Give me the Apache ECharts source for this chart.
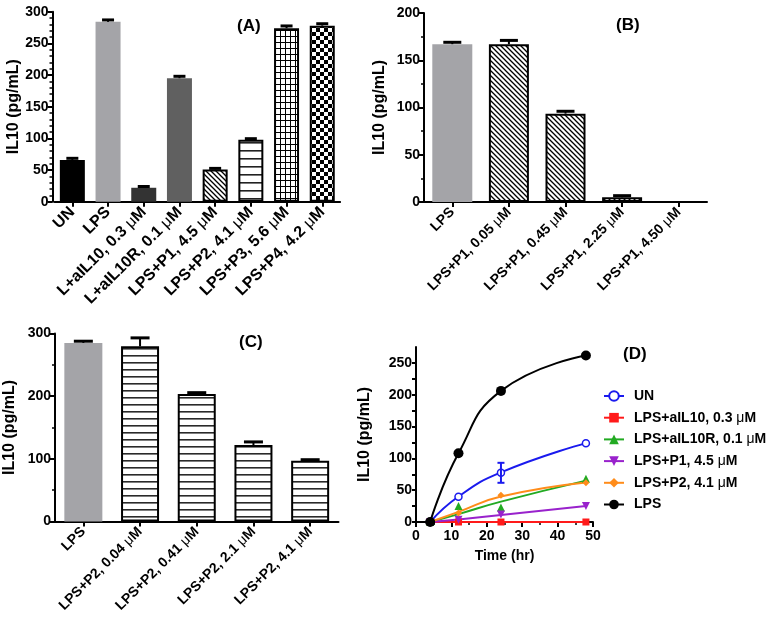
<!DOCTYPE html>
<html><head><meta charset="utf-8">
<script src="https://cdn.jsdelivr.net/npm/echarts@6/dist/echarts.min.js"></script>
<style>html,body{margin:0;padding:0;background:#fff}#c{width:781px;height:622px}</style>
</head><body><div id="c"></div>
<script>
// ---------- DATA ----------
const catA = ['UN', 'LPS', 'L+aIL10, 0.3 μM', 'L+aIL10R, 0.1 μM', 'LPS+P1, 4.5 μM', 'LPS+P2, 4.1 μM', 'LPS+P3, 5.6 μM', 'LPS+P4, 4.2 μM'];
const valA = [66, 284, 22, 195, 51, 98, 274, 278];
const errA = [68.5, 287, 24, 198, 52.6, 99.5, 277.5, 281];

const catB = ['LPS', 'LPS+P1, 0.05 μM', 'LPS+P1, 0.45 μM', 'LPS+P1, 2.25 μM', 'LPS+P1, 4.50 μM'];
const valB = [167, 167, 93.5, 5, 0];
const errB = [169, 171, 96, 6.7, 0];

const catC = ['LPS', 'LPS+P2, 0.04 μM', 'LPS+P2, 0.41 μM', 'LPS+P2, 2.1 μM', 'LPS+P2, 4.1 μM'];
const valC = [285, 279.5, 203.5, 122, 97];
const errC = [287.7, 293, 205.6, 127, 98.6];

const timeD = [4, 12, 24, 48];
const namesD = ['UN', 'LPS+aIL10, 0.3 μM', 'LPS+aIL10R, 0.1 μM', 'LPS+P1, 4.5 μM', 'LPS+P2, 4.1 μM', 'LPS'];
const dUN = [0, 39.5, 77.4, 123.7];
const dAIL10 = [0, 0, 0, 0];
const dAIL10R = [0, 25, 22.6, 68];
const dP1 = [0, 3.7, 11.6, 25];
const dP2 = [0, 14, 42, 61.6];
const dLPS = [0, 107.9, 206, 261.6];
// fitted curves
const fUN = [0, 40, 78, 124];
const fAIL10 = [0, 0, 0, 0];
const fAIL10R = [0, 12.4, 32, 65];
const fP1 = [0, 4, 11, 25];
const fP2 = [0, 16, 40, 62];
const fLPS = [0, 107.9, 206, 261.6];
// error bar (UN at 24 h)
const errDTime = [24];
const errDLow = [61.6];
const errDHigh = [93];

// ---------- PATTERNS ----------
function mk(w, h, draw) {
  const c = document.createElement('canvas'); c.width = w; c.height = h;
  const g = c.getContext('2d'); g.fillStyle = '#fff'; g.fillRect(0, 0, w, h); draw(g); return c;
}
const hatch = mk(5, 5, g => { g.strokeStyle = '#000'; g.lineWidth = 1.3; g.beginPath();
  g.moveTo(-1, -1); g.lineTo(6, 6); g.moveTo(-1, 4); g.lineTo(2, 7); g.moveTo(4, -1); g.lineTo(7, 2); g.stroke(); });
const hlinesA = mk(4, 8, g => { g.fillStyle = '#222'; g.fillRect(0, 6, 4, 1.6); });
const hlinesC = mk(4, 7, g => { g.fillStyle = '#2a2a2a'; g.fillRect(0, 5, 4, 1.6); });
const gridPat = mk(5, 6, g => { g.fillStyle = '#000'; g.fillRect(0, 0, 5, 1); g.fillRect(0, 0, 1, 6); });
const checker = mk(8, 8, g => { g.fillStyle = '#000'; g.fillRect(0, 0, 4, 4); g.fillRect(4, 4, 4, 4); });
const pat = c => ({ image: c, repeat: 'repeat' });

const border = { borderColor: '#000', borderWidth: 2 };
const stylesA = [
  { color: '#000' }, { color: '#a4a4a8' }, { color: '#333' }, { color: '#606060' },
  Object.assign({ color: pat(hatch) }, border), Object.assign({ color: pat(hlinesA) }, border),
  Object.assign({ color: pat(gridPat) }, border), Object.assign({ color: pat(checker) }, border)
];
const stylesB = [{ color: '#a4a4a8' }].concat([1, 2, 3, 4].map(() => Object.assign({ color: pat(hatch) }, border)));
const stylesC = [{ color: '#a4a4a8' }].concat([1, 2, 3, 4].map(() => Object.assign({ color: pat(hlinesC) }, border)));

// ---------- HELPERS ----------
const FONT = 'Arial, "Liberation Sans", sans-serif';
const muRich = fs => ({ u: { fontFamily: FONT, fontWeight: 'normal', fontSize: fs, color: '#000' } });
const muFmt = v => String(v).replace('μ', '{u|μ}');
const axisLine = { show: true, lineStyle: { color: '#000', width: 2 } };
const axisTick = { show: true, length: 5, lineStyle: { color: '#000', width: 2 } };

function catAxis(gi, data, fs) {
  return { type: 'category', gridIndex: gi, data: data, axisLine: axisLine,
    axisTick: Object.assign({ alignWithLabel: true }, axisTick),
    axisLabel: { rotate: 45, fontSize: fs, fontWeight: 'bold', color: '#000', fontFamily: FONT, margin: 8,
      interval: 0, formatter: muFmt, rich: muRich(fs) } };
}
function valAxis(gi, max, interval, minorSplit, nameGap) {
  return { type: 'value', gridIndex: gi, min: 0, max: max, interval: interval,
    splitLine: { show: false }, axisLine: axisLine, axisTick: axisTick,
    minorTick: { show: true, splitNumber: minorSplit, length: 3, lineStyle: { color: '#000', width: 1.5 } },
    axisLabel: { fontSize: 14, fontWeight: 'bold', color: '#000', fontFamily: FONT, margin: 4 },
    name: 'IL10 (pg/mL)', nameLocation: 'middle', nameGap: nameGap,
    nameTextStyle: { fontSize: 16, fontWeight: 'bold', color: '#000', fontFamily: FONT } };
}
function errRender(capW) {
  return function (params, api) {
    const x = api.value(0), y = api.value(1), e = api.value(2);
    if (!(e > y)) return null;
    const p0 = api.coord([x, y]), p1 = api.coord([x, e]);
    return { type: 'group', children: [
      { type: 'line', shape: { x1: p0[0], y1: p0[1], x2: p1[0], y2: p1[1] }, style: { stroke: '#000', lineWidth: 2 } },
      { type: 'line', shape: { x1: p1[0] - capW / 2, y1: p1[1], x2: p1[0] + capW / 2, y2: p1[1] }, style: { stroke: '#000', lineWidth: 3 } }
    ] };
  };
}
function barSeries(gi, vals, styles, w) {
  return { type: 'bar', xAxisIndex: gi, yAxisIndex: gi, barWidth: w, silent: true,
    data: vals.map((v, i) => ({ value: v, itemStyle: styles[i] })) };
}
function errSeries(gi, vals, errs, capW) {
  return { type: 'custom', xAxisIndex: gi, yAxisIndex: gi, z: 5, silent: true, renderItem: errRender(capW),
    encode: { x: 0, y: [1, 2] }, data: vals.map((v, i) => [i, v, errs[i]]) };
}

// ---------- PANEL D SERIES ----------
const dStyles = [
  { c: '#1a1aee', sym: 'circle', size: 7, fill: '#fff' },
  { c: '#ff1a1a', sym: 'rect', size: 7, fill: null },
  { c: '#22aa22', sym: 'triangle', size: 8, fill: null },
  { c: '#9922cc', sym: 'path://M0,0 L10,0 L5,9 Z', size: 8, fill: null },
  { c: '#ff8c1a', sym: 'diamond', size: 7, fill: null },
  { c: '#000', sym: 'circle', size: 10, fill: null }
];
const dData = [dUN, dAIL10, dAIL10R, dP1, dP2, dLPS];
const dFit = [fUN, fAIL10, fAIL10R, fP1, fP2, fLPS];
const dSeries = [];
dFit.forEach((f, k) => {
  dSeries.push({ type: 'line', name: 'fit' + k, xAxisIndex: 3, yAxisIndex: 3, smooth: 0.5, showSymbol: false, silent: true,
    lineStyle: { color: dStyles[k].c, width: 2 }, itemStyle: { color: dStyles[k].c }, z: 2,
    data: timeD.map((t, i) => [t, f[i]]) });
});
dData.forEach((d, k) => {
  const s = dStyles[k];
  dSeries.push({ type: 'line', name: namesD[k], xAxisIndex: 3, yAxisIndex: 3, symbol: s.sym, symbolSize: s.size,
    showSymbol: true, silent: true, z: 3 + k,
    lineStyle: { color: s.c, width: 2, opacity: 0 },
    itemStyle: s.fill ? { color: s.fill, borderColor: s.c, borderWidth: 1.5 } : { color: s.c },
    data: timeD.map((t, i) => [t, d[i]]) });
});
dSeries.push({ type: 'custom', xAxisIndex: 3, yAxisIndex: 3, z: 10, silent: true,
  encode: { x: 0, y: [1, 2] },
  data: errDTime.map((t, i) => [t, errDLow[i], errDHigh[i]]),
  renderItem: function (params, api) {
    const p0 = api.coord([api.value(0), api.value(1)]), p1 = api.coord([api.value(0), api.value(2)]);
    const st = { stroke: '#1a1aee', lineWidth: 2 };
    return { type: 'group', children: [
      { type: 'line', shape: { x1: p0[0], y1: p0[1], x2: p1[0], y2: p1[1] }, style: st },
      { type: 'line', shape: { x1: p0[0] - 3.5, y1: p0[1], x2: p0[0] + 3.5, y2: p0[1] }, style: st },
      { type: 'line', shape: { x1: p1[0] - 3.5, y1: p1[1], x2: p1[0] + 3.5, y2: p1[1] }, style: st }
    ] };
  } });

const yA = valAxis(0, 300, 50, 5, 31);
yA.offset = 2;
const yD = valAxis(3, 275, 25, 1, 43);
yD.minorTick = { show: false };
yD.axisTick = { show: true, length: 4, lineStyle: { color: '#000', width: 2 } };
yD.axisLabel.formatter = v => (v % 50 === 0 ? String(v) : '');
yD.axisLabel.showMaxLabel = false;

const panelTitle = (t, l, tp) => ({ text: t, left: l, top: tp, padding: 0,
  textStyle: { fontSize: 17, fontWeight: 'bold', color: '#000', fontFamily: FONT } });

const option = {
  animation: false,
  backgroundColor: '#fff',
  title: [panelTitle('(A)', 237, 18), panelTitle('(B)', 616, 17), panelTitle('(C)', 239, 334), panelTitle('(D)', 623, 346)],
  grid: [
    { left: 54.5, top: 11.7, width: 285.6, height: 190 },
    { left: 424, top: 13, width: 283, height: 189 },
    { left: 55, top: 333.5, width: 283.5, height: 188 },
    { left: 416, top: 347, width: 177, height: 175 }
  ],
  xAxis: [
    catAxis(0, catA, 16), catAxis(1, catB, 14), catAxis(2, catC, 14),
    { type: 'value', gridIndex: 3, min: 0, max: 50, interval: 10, splitLine: { show: false },
      axisLine: axisLine, axisTick: axisTick,
      minorTick: { show: true, splitNumber: 2, length: 3, lineStyle: { color: '#000', width: 1.5 } },
      axisLabel: { fontSize: 14, fontWeight: 'bold', color: '#000', fontFamily: FONT, margin: 7 },
      name: 'Time (hr)', nameLocation: 'middle', nameGap: 27,
      nameTextStyle: { fontSize: 14, fontWeight: 'bold', color: '#000', fontFamily: FONT } }
  ],
  yAxis: [yA, valAxis(1, 200, 50, 2, 36), valAxis(2, 300, 100, 2, 37), yD],
  legend: {
    data: namesD, orient: 'vertical', left: 603, top: 389, padding: 0,
    itemWidth: 20, itemHeight: 12, itemGap: 7.7,
    lineStyle: { width: 2, opacity: 1 },
    textStyle: { fontSize: 14, fontWeight: 'bold', color: '#000', fontFamily: FONT, rich: muRich(14), padding: [0, 0, 0, 5] },
    formatter: muFmt
  },
  series: [
    barSeries(0, valA, stylesA, 25), errSeries(0, valA, errA, 12),
    barSeries(1, valB, stylesB, 40), errSeries(1, valB, errB, 18),
    barSeries(2, valC, stylesC, 38), errSeries(2, valC, errC, 19)
  ].concat(dSeries)
};
echarts.init(document.getElementById('c')).setOption(option);
</script></body></html>
